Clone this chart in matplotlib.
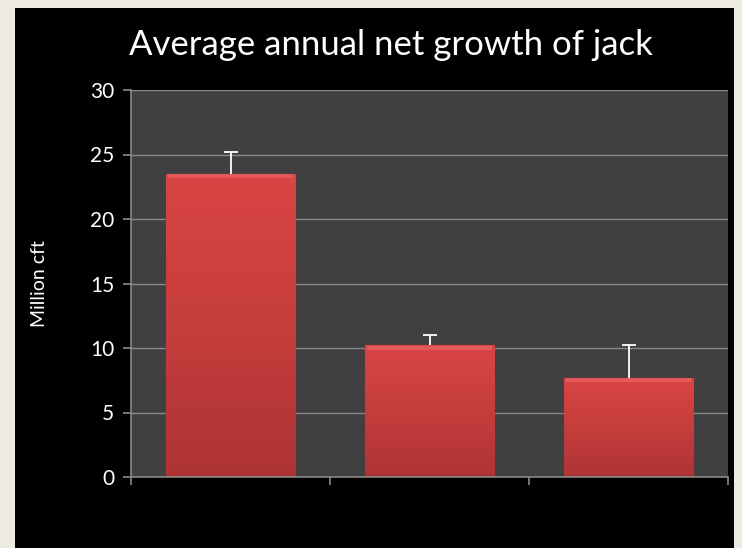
import matplotlib
matplotlib.use("Agg")
import matplotlib.pyplot as plt
import numpy as np
from matplotlib.patches import Rectangle
from matplotlib.colors import LinearSegmentedColormap

categories = ["A", "B", "C"]
values = [23.5, 10.2, 7.7]
err_upper = [1.7, 0.8, 2.55]
yticks = [0, 5, 10, 15, 20, 25, 30]

plt.rcParams['font.family'] = ['Lato', 'DejaVu Sans']

W, H = 742, 548
fig = plt.figure(figsize=(W/100, H/100), dpi=100)
fig.patch.set_facecolor('#EDEBE1')
# black panel
bg = fig.add_axes([15/W, 0, (734-15)/W, (548-8)/H], zorder=-5)
bg.set_facecolor('black')
bg.set_xticks([]); bg.set_yticks([])
for s in bg.spines.values():
    s.set_visible(False)

ax = fig.add_axes([131/W, 1-477/H, (728-131)/W, (477-90)/H], zorder=1)
ax.set_facecolor('#404040')
ax.set_xlim(0, len(categories))
ax.set_ylim(0, 30)
ax.set_yticks(yticks)
ax.set_yticklabels([str(t) for t in yticks])
ax.set_xticks(range(len(categories)+1))
ax.set_xticklabels([])
ax.grid(axis='y', color='#8A8A8A', linewidth=1.0)
ax.set_axisbelow(True)
for s in ['top', 'right']:
    ax.spines[s].set_visible(False)
for s in ['left', 'bottom']:
    ax.spines[s].set_color('#8A8A8A')
    ax.spines[s].set_linewidth(1.2)
ax.tick_params(axis='both', colors='#8A8A8A', length=6, width=1.2)
ax.tick_params(axis='y', labelcolor='white', labelsize=15, pad=6)

cmap = LinearSegmentedColormap.from_list('bar', ['#AE3434', '#C63D3D', '#D94545'])
grad = np.linspace(0, 1, 256).reshape(-1, 1)
x = np.arange(len(categories)) + 0.5
bw = 0.65
for xi, v in zip(x, values):
    rect = Rectangle((xi - bw/2, 0), bw, v, facecolor='#C94040', edgecolor='#8E2A2A',
                     linewidth=1.0, zorder=2)
    ax.add_patch(rect)
    im = ax.imshow(grad, cmap=cmap, origin='lower', aspect='auto',
                   extent=(xi - bw/2, xi + bw/2, 0, v), zorder=2.1)
    im.set_clip_path(rect)
    # top highlight
    ax.add_patch(Rectangle((xi - bw/2 + 0.01, v - 0.35), bw - 0.02, 0.3,
                           facecolor='#E86060', edgecolor='none', zorder=2.2, alpha=0.8))
ax.set_xlim(0, len(categories))
ax.set_ylim(0, 30)

eb = ax.errorbar(x, values, yerr=[np.zeros(len(values)), err_upper], fmt='none',
                 ecolor='white', elinewidth=1.3, capsize=5, capthick=1.3, zorder=3)
eb[1][0].set_visible(False)

ax.set_ylabel('Million cft', color='white', fontsize=14, labelpad=30)
fig.text(391/W, 1-45/H, 'Average annual net growth of jack', color='white',
         fontsize=25, ha='center', va='center')

fig.savefig('out.png', dpi=100, facecolor=fig.get_facecolor())
